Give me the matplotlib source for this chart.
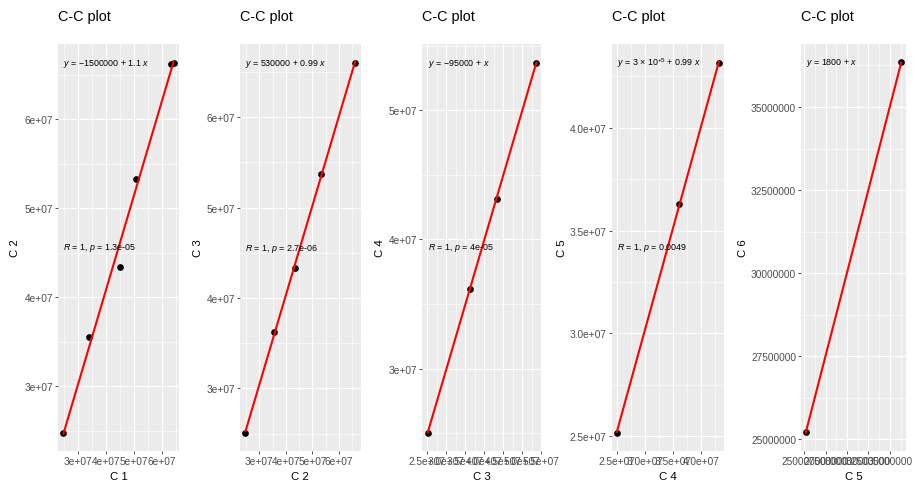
import numpy as np
import matplotlib
matplotlib.use("Agg")
import matplotlib.pyplot as plt

plt.rcParams['font.family'] = ['Liberation Sans', 'DejaVu Sans']
plt.rcParams['mathtext.fontset'] = 'custom'
plt.rcParams['mathtext.rm'] = 'Liberation Sans'
plt.rcParams['mathtext.it'] = 'Liberation Sans:italic'

# Column values (successive columns have fewer observations)
c1 = [24.86e6, 33.96e6, 45.11e6, 50.86e6, 63.35e6, 64.17e6]
c2 = [24.81e6, 35.52e6, 43.46e6, 53.27e6, 66.16e6, 66.38e6]
c3 = [25.13e6, 36.20e6, 43.28e6, 53.75e6, 66.03e6]
c4 = [25.05e6, 36.15e6, 43.15e6, 53.70e6]
c5 = [25.18e6, 36.32e6, 43.18e6]
c6 = [25.20e6, 36.34e6]

columns = [c1, c2, c3, c4, c5, c6]
col_names = ["C 1", "C 2", "C 3", "C 4", "C 5", "C 6"]

eq_labels = ["$y$ = \u22121500000 + 1.1 $x$",
             "$y$ = 530000 + 0.99 $x$",
             "$y$ = \u221295000 + $x$",
             "$y$ = 3 \u00d7 $10^{+5}$ + 0.99 $x$",
             "$y$ = 1800 + $x$"]
cor_labels = ["$R$ = 1, $p$ = 1.3e-05",
              "$R$ = 1, $p$ = 2.7e-06",
              "$R$ = 1, $p$ = 4e-05",
              "$R$ = 1, $p$ = 0.0049",
              None]

x_ticks = [[3e7, 4e7, 5e7, 6e7],
           [3e7, 4e7, 5e7, 6e7],
           [2.5e7, 3.0e7, 3.5e7, 4.0e7, 4.5e7, 5.0e7, 5.5e7],
           [2.5e7, 3.0e7, 3.5e7, 4.0e7],
           [25000000, 27500000, 30000000, 32500000, 35000000]]
x_tick_labels = [["3e+07", "4e+07", "5e+07", "6e+07"],
                 ["3e+07", "4e+07", "5e+07", "6e+07"],
                 ["2.5e+07", "3.0e+07", "3.5e+07", "4.0e+07", "4.5e+07", "5.0e+07", "5.5e+07"],
                 ["2.5e+07", "3.0e+07", "3.5e+07", "4.0e+07"],
                 ["25000000", "27500000", "30000000", "32500000", "35000000"]]
y_ticks = [[3e7, 4e7, 5e7, 6e7],
           [3e7, 4e7, 5e7, 6e7],
           [3e7, 4e7, 5e7],
           [2.5e7, 3.0e7, 3.5e7, 4.0e7],
           [25000000, 27500000, 30000000, 32500000, 35000000]]
y_tick_labels = [["3e+07", "4e+07", "5e+07", "6e+07"],
                 ["3e+07", "4e+07", "5e+07", "6e+07"],
                 ["3e+07", "4e+07", "5e+07"],
                 ["2.5e+07", "3.0e+07", "3.5e+07", "4.0e+07"],
                 ["25000000", "27500000", "30000000", "32500000", "35000000"]]

W, H = 914, 489
fig = plt.figure(figsize=(W / 100, H / 100), dpi=100, facecolor="white")

# panel extents in pixels (left, right); shared top/bottom
panel_x = [(58, 179), (240, 360.7), (422.3, 541.7), (611.7, 724), (801, 906)]
ytitle_x = [15, 198.3, 380, 561.7, 743.3]
top_px, bot_px = 45, 452

BG = "#EBEBEB"
TICK_COL = "#4D4D4D"


def expand(vals):
    lo, hi = min(vals), max(vals)
    pad = 0.05 * (hi - lo)
    return lo - pad, hi + pad


def minors(major, lim):
    step = major[1] - major[0]
    cand = [major[0] - step / 2] + [m + step / 2 for m in major]
    return [m for m in cand if lim[0] <= m <= lim[1]]


for i in range(5):
    xv = columns[i]
    yv = columns[i + 1]
    n = len(yv)
    x = np.array(xv[:n])
    y = np.array(yv)

    l, r = panel_x[i]
    ax = fig.add_axes([l / W, 1 - bot_px / H, (r - l) / W, (bot_px - top_px) / H])
    ax.set_facecolor(BG)
    for s in ax.spines.values():
        s.set_visible(False)

    xlim = expand(x)
    ylim = expand(y)
    ax.set_xlim(*xlim)
    ax.set_ylim(*ylim)

    # grid lines
    for m in minors(x_ticks[i], xlim):
        ax.axvline(m, color="white", lw=0.45, zorder=0.5)
    for m in minors(y_ticks[i], ylim):
        ax.axhline(m, color="white", lw=0.45, zorder=0.5)
    for m in x_ticks[i]:
        ax.axvline(m, color="white", lw=0.85, zorder=0.6)
    for m in y_ticks[i]:
        ax.axhline(m, color="white", lw=0.85, zorder=0.6)

    ax.set_xticks(x_ticks[i])
    ax.set_xticklabels(x_tick_labels[i])
    ax.set_yticks(y_ticks[i])
    ax.set_yticklabels(y_tick_labels[i])
    ax.tick_params(axis="both", length=2.1, width=0.6, color="#333333",
                   labelsize=7.3, labelcolor=TICK_COL, pad=1.5)

    # points and linear fit
    ax.plot(x, y, "o", color="black", markersize=3.8, zorder=3)
    slope, intercept = np.polyfit(x, y, 1)
    xs = np.linspace(x.min(), x.max(), 50)
    ax.plot(xs, intercept + slope * xs, color="#FF0000", lw=1.5, zorder=4)

    # regression equation and correlation labels
    ax.text(x.min(), y.max(), eq_labels[i], fontsize=6.4, ha="left", va="center",
            color="black", zorder=5)
    if cor_labels[i] is not None:
        ax.text(x.min(), (y.min() + y.max()) / 2, cor_labels[i], fontsize=6.4,
                ha="left", va="center", color="black", zorder=5)

    # titles
    fig.text(l / W, 1 - 16.7 / H, "C-C plot", fontsize=10.4, ha="left", va="center")
    fig.text((l + r) / 2 / W, 1 - 477.3 / H, col_names[i], fontsize=8.2,
             ha="center", va="center")
    fig.text(ytitle_x[i] / W, 1 - (top_px + bot_px) / 2 / H, col_names[i + 1],
             fontsize=8.2, ha="center", va="center", rotation=90)

fig.savefig("out.png", dpi=100, facecolor="white")
